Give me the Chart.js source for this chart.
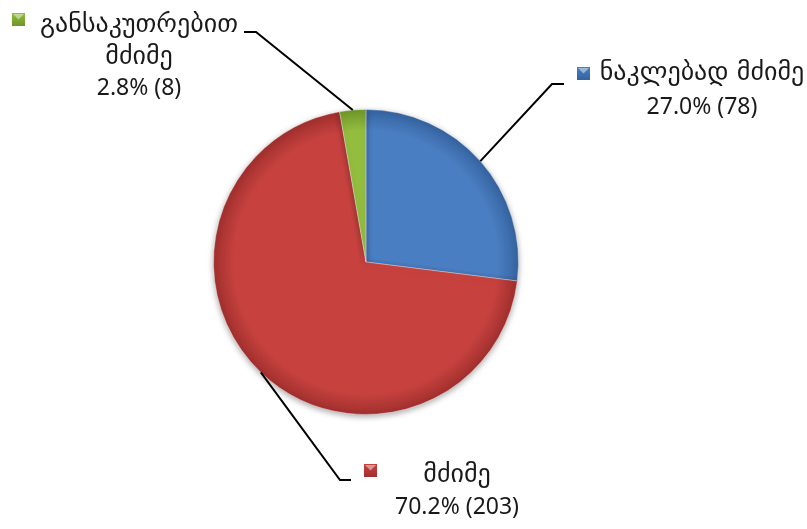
<!DOCTYPE html>
<html>
<head>
<meta charset="utf-8">
<script src="https://cdn.jsdelivr.net/npm/chart.js@4/dist/chart.umd.min.js"></script>
<style>
  html, body { margin: 0; padding: 0; background: #fff; }
  #wrap { width: 807px; height: 529px; position: relative; }
</style>
</head>
<body>
<div id="wrap"><canvas id="pieChart"></canvas></div>
<script>
'use strict';

// data
const categories = ['ნაკლებად მძიმე', 'მძიმე', 'განსაკუთრებით მძიმე'];
const labelLines = [['ნაკლებად მძიმე'], ['მძიმე'], ['განსაკუთრებით', 'მძიმე']];
const counts = [78, 203, 8];
const baseColors = ['#4a7ec2', '#c7423f', '#92bd3f'];
const rimColors = ['#35639f', '#a02f2d', '#6f9528'];

// where each callout text sits (layout only)
const callouts = [
    { elbow: [552, 84], end: [564, 84], textX: 702, textY: [73, 107], box: [577, 67] },
    { elbow: [340, 480], end: [351, 480], textX: 457, textY: [475, 507], box: [364, 464] },
    { elbow: [256, 32], end: [244, 32], textX: 139, textY: [25, 57, 88], box: [12, 13] }
];

const total = counts.reduce((a, b) => a + b, 0);
const GEO_FONT = '26px "DejaVu Sans", sans-serif';
const NUM_FONT = '23px "Noto Sans", "DejaVu Sans", sans-serif';

function sliceFill(context) {
    const chart = context.chart;
    const i = context.dataIndex;
    const area = chart.chartArea;
    if (!area) return baseColors[i];
    const cx = (area.left + area.right) / 2;
    const cy = (area.top + area.bottom) / 2;
    const r = Math.min(area.right - area.left, area.bottom - area.top) / 2;
    const g = chart.ctx.createRadialGradient(cx, cy, 0, cx, cy, r);
    g.addColorStop(0, baseColors[i]);
    g.addColorStop(0.86, baseColors[i]);
    g.addColorStop(1, rimColors[i]);
    return g;
}

const shadowPlugin = {
    id: 'pieShadow',
    beforeDatasetsDraw(chart) {
        const ctx = chart.ctx;
        ctx.save();
        ctx.shadowColor = 'rgba(0,0,0,0.35)';
        ctx.shadowBlur = 6;
        ctx.shadowOffsetY = 2;
    },
    afterDatasetsDraw(chart) {
        chart.ctx.restore();
    }
};

const calloutPlugin = {
    id: 'callouts',
    afterDraw(chart) {
        const ctx = chart.ctx;
        const meta = chart.getDatasetMeta(0);
        meta.data.forEach((arc, i) => {
            const p = arc.getProps(['x', 'y', 'startAngle', 'endAngle', 'outerRadius'], true);
            const mid = (p.startAngle + p.endAngle) / 2;
            const sx = p.x + Math.cos(mid) * p.outerRadius;
            const sy = p.y + Math.sin(mid) * p.outerRadius;
            const c = callouts[i];

            ctx.save();
            ctx.strokeStyle = '#000';
            ctx.lineWidth = 2;
            ctx.beginPath();
            ctx.moveTo(sx, sy);
            ctx.lineTo(c.elbow[0], c.elbow[1]);
            ctx.lineTo(c.end[0], c.end[1]);
            ctx.stroke();

            // legend key square
            const bx = c.box[0], by = c.box[1], bs = 13;
            const kg = ctx.createLinearGradient(bx, by, bx, by + bs);
            kg.addColorStop(0, baseColors[i]);
            kg.addColorStop(1, rimColors[i]);
            ctx.fillStyle = kg;
            ctx.fillRect(bx, by, bs, bs);
            ctx.fillStyle = 'rgba(255,255,255,0.45)';
            ctx.beginPath();
            ctx.moveTo(bx + 1, by + 1);
            ctx.lineTo(bx + bs - 1, by + 1);
            ctx.lineTo(bx + bs / 2, by + bs / 2);
            ctx.closePath();
            ctx.fill();

            // text
            const pct = (counts[i] / total * 100).toFixed(1) + '% (' + counts[i] + ')';
            const lines = labelLines[i].concat([pct]);
            ctx.fillStyle = '#1a1a1a';
            ctx.textAlign = 'center';
            ctx.textBaseline = 'middle';
            lines.forEach((t, k) => {
                ctx.font = k < lines.length - 1 ? GEO_FONT : NUM_FONT;
                ctx.fillText(t, c.textX, c.textY[k]);
            });
            ctx.restore();
        });
    }
};

new Chart(document.getElementById('pieChart').getContext('2d'), {
    type: 'pie',
    data: {
        labels: categories,
        datasets: [{
            data: counts,
            backgroundColor: sliceFill,
            borderColor: 'rgba(255,255,255,0.35)',
            borderWidth: 1
        }]
    },
    options: {
        responsive: true,
        maintainAspectRatio: false,
        animation: false,
        layout: { padding: { left: 213, right: 288, top: 109, bottom: 114 } },
        plugins: {
            legend: { display: false },
            tooltip: { enabled: false }
        }
    },
    plugins: [shadowPlugin, calloutPlugin]
});
</script>
</body>
</html>
